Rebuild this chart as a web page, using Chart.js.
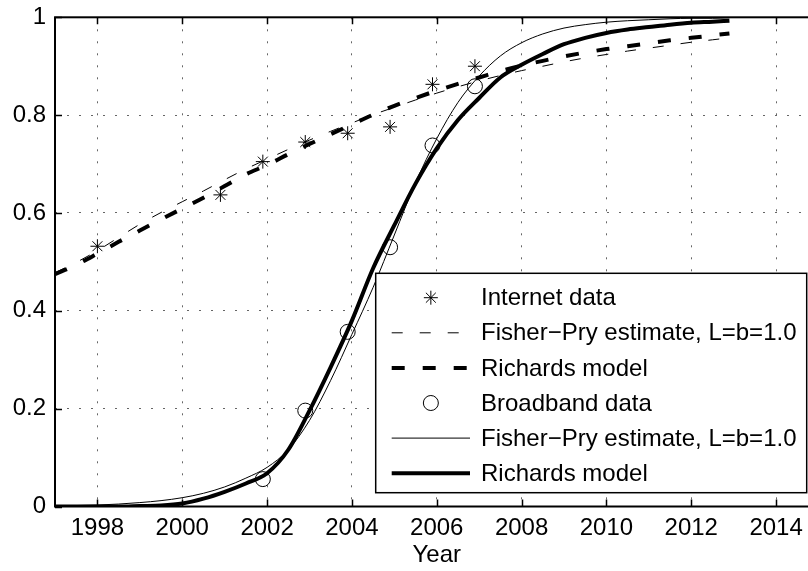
<!DOCTYPE html>
<html>
<head>
<meta charset="utf-8">
<script src="https://cdn.jsdelivr.net/npm/chart.js@4"></script>
<style>
  html, body { margin: 0; padding: 0; background: #fff; overflow: hidden; }
  canvas { display: block; }
</style>
</head>
<body>
<canvas id="c" width="840" height="571"></canvas>
<script>
// Axis ticks
const xTicks = [1998, 2000, 2002, 2004, 2006, 2008, 2010, 2012, 2014];
const yTicks = [0, 0.2, 0.4, 0.6, 0.8, 1];

// Observed adoption shares
const internetYears = [1998.0, 2000.9, 2001.9, 2002.9, 2003.9, 2004.9, 2005.9, 2006.9];
const internetShare = [0.532, 0.637, 0.705, 0.745, 0.763, 0.776, 0.863, 0.900];
const broadbandYears = [2001.9, 2002.9, 2003.9, 2004.9, 2005.9, 2006.9];
const broadbandShare = [0.056, 0.196, 0.357, 0.530, 0.738, 0.859];

// Fitted curves, sampled by year
const curveYears = [1997, 1997.5, 1998, 1998.5, 1999, 1999.5, 2000, 2000.5, 2001, 2001.5,
  2002, 2002.5, 2003, 2003.5, 2004, 2004.5, 2005, 2005.5, 2006, 2006.5,
  2007, 2007.5, 2008, 2008.5, 2009, 2009.5, 2010, 2010.5, 2011, 2011.5,
  2012, 2012.5, 2012.9];
const internetFisherPry = [0.478, 0.499, 0.523, 0.550, 0.577, 0.601, 0.623, 0.645, 0.668, 0.690,
  0.710, 0.730, 0.749, 0.767, 0.784, 0.801, 0.816, 0.831, 0.845, 0.858,
  0.870, 0.881, 0.891, 0.900, 0.909, 0.917, 0.924, 0.931, 0.937, 0.943,
  0.949, 0.954, 0.958];
const internetRichards = [0.475, 0.494, 0.517, 0.541, 0.564, 0.587, 0.609, 0.631, 0.655, 0.679,
  0.698, 0.720, 0.741, 0.761, 0.781, 0.801, 0.819, 0.835, 0.850, 0.864,
  0.877, 0.890, 0.901, 0.911, 0.920, 0.928, 0.935, 0.941, 0.947, 0.953,
  0.958, 0.963, 0.967];
const broadbandFisherPry = [0.001, 0.002, 0.003, 0.005, 0.008, 0.012, 0.018, 0.027, 0.040, 0.058,
  0.080, 0.116, 0.176, 0.258, 0.352, 0.448, 0.555, 0.662, 0.752, 0.826,
  0.880, 0.921, 0.948, 0.966, 0.978, 0.985, 0.990, 0.993, 0.995, 0.997,
  0.998, 0.998, 0.999];
const broadbandRichards = [0.000, 0.000, 0.000, 0.000, 0.001, 0.002, 0.006, 0.016, 0.030, 0.047,
  0.068, 0.116, 0.196, 0.285, 0.380, 0.487, 0.575, 0.660, 0.732, 0.790,
  0.835, 0.877, 0.903, 0.925, 0.945, 0.958, 0.968, 0.975, 0.980, 0.985,
  0.989, 0.991, 0.993];

const seriesLabels = ['Internet data', 'Fisher\u2212Pry estimate, L=b=1.0', 'Richards model',
  'Broadband data', 'Fisher\u2212Pry estimate, L=b=1.0', 'Richards model'];

const FONT = "'Liberation Sans', Arial, Helvetica, sans-serif";
const FONT_SIZE = 24;
const pts = (xs, ys) => xs.map((x, i) => ({ x: x, y: ys[i] }));

function markers(label, xs, ys, style, radius) {
  return {
    label: label, data: pts(xs, ys), showLine: false,
    pointStyle: style, pointRadius: radius, pointHoverRadius: radius,
    pointBorderColor: '#000', pointBackgroundColor: 'rgba(0,0,0,0)', pointBorderWidth: 1,
    borderColor: '#000', backgroundColor: 'rgba(0,0,0,0)'
  };
}
function curve(label, ys, width, dash) {
  return {
    label: label, data: pts(curveYears, ys), pointRadius: 0, pointHoverRadius: 0,
    borderColor: '#000', backgroundColor: 'rgba(0,0,0,0)', borderWidth: width,
    borderDash: dash, borderCapStyle: 'butt', cubicInterpolationMode: 'monotone', fill: false
  };
}

const datasets = [
  markers(seriesLabels[0], internetYears, internetShare, 'star', 7),
  curve(seriesLabels[1], internetFisherPry, 1, [11, 17]),
  curve(seriesLabels[2], internetRichards, 4, [13, 18]),
  markers(seriesLabels[3], broadbandYears, broadbandShare, 'circle', 7.5),
  curve(seriesLabels[4], broadbandFisherPry, 1, []),
  curve(seriesLabels[5], broadbandRichards, 4, [])
];
// later series are painted over earlier ones
datasets.forEach((d, i) => { d.order = 10 - i; });

// Axes frame with inward ticks on every side
const framePlugin = {
  id: 'frame',
  afterDatasetsDraw(chart) {
    const { ctx, chartArea: a, scales: { x, y } } = chart;
    ctx.save();
    ctx.strokeStyle = '#000';
    ctx.lineWidth = 1.5;
    ctx.beginPath();
    xTicks.forEach(v => {
      const px = Math.round(x.getPixelForValue(v)) + 0.5;
      ctx.moveTo(px, a.bottom); ctx.lineTo(px, a.bottom - 7);
      ctx.moveTo(px, a.top); ctx.lineTo(px, a.top + 7);
    });
    yTicks.forEach(v => {
      const py = Math.round(y.getPixelForValue(v)) + 0.5;
      ctx.moveTo(a.left, py); ctx.lineTo(a.left + 7, py);
      ctx.moveTo(a.right, py); ctx.lineTo(a.right - 7, py);
    });
    ctx.stroke();
    ctx.lineWidth = 2;
    ctx.strokeRect(a.left, a.top, a.right - a.left, a.bottom - a.top);
    ctx.restore();
  }
};

// Boxed legend inside the lower right of the axes
const legendPlugin = {
  id: 'boxLegend',
  afterDraw(chart) {
    const { ctx, chartArea: a } = chart;
    const w = 431, h = 219.4;
    const right = a.right - 11.8, bottom = a.bottom - 13.8;
    const left = right - w, top = bottom - h;
    ctx.save();
    ctx.fillStyle = '#fff';
    ctx.fillRect(left, top, w, h);
    ctx.strokeStyle = '#000';
    ctx.lineWidth = 1.5;
    ctx.strokeRect(left, top, w, h);
    ctx.font = FONT_SIZE + 'px ' + FONT;
    ctx.textBaseline = 'middle';
    ctx.textAlign = 'left';
    chart.data.datasets.forEach((ds, i) => {
      const cy = top + 24.4 + i * 35.1;
      const x0 = left + 16, x1 = left + 94.3, cx = (x0 + x1) / 2;
      ctx.strokeStyle = '#000';
      if (ds.showLine === false) {
        ctx.lineWidth = 1;
        ctx.setLineDash([]);
        ctx.beginPath();
        const r = ds.pointRadius;
        if (ds.pointStyle === 'star') {
          for (let k = 0; k < 4; k++) {
            const ang = k * Math.PI / 4;
            ctx.moveTo(cx - r * Math.cos(ang), cy - r * Math.sin(ang));
            ctx.lineTo(cx + r * Math.cos(ang), cy + r * Math.sin(ang));
          }
        } else {
          ctx.arc(cx, cy, r, 0, Math.PI * 2);
        }
        ctx.stroke();
      } else {
        ctx.lineWidth = ds.borderWidth;
        ctx.lineCap = 'butt';
        ctx.setLineDash(ds.borderDash || []);
        ctx.beginPath();
        ctx.moveTo(x0, cy); ctx.lineTo(x1, cy);
        ctx.stroke();
        ctx.setLineDash([]);
      }
      ctx.fillStyle = '#000';
      ctx.fillText(ds.label, left + 105.3, cy + 1);
    });
    ctx.restore();
  }
};

new Chart(document.getElementById('c'), {
  type: 'line',
  data: { datasets: datasets },
  options: {
    responsive: false,
    animation: false,
    devicePixelRatio: 1,
    layout: { padding: { top: 17.3, right: 21.5, left: 0, bottom: 0 } },
    plugins: { legend: { display: false }, tooltip: { enabled: false } },
    scales: {
      x: {
        type: 'linear', min: 1997, max: 2015,
        afterBuildTicks: s => { s.ticks = xTicks.map(v => ({ value: v })); },
        afterFit: s => { s.height = 64.5; s.paddingLeft = 0; s.paddingRight = 0; },
        grid: { color: '#666', lineWidth: 1, drawTicks: false },
        border: { display: false, dash: [2, 10] },
        ticks: { color: '#000', padding: 7.5, maxRotation: 0, autoSkip: false,
                 font: { family: FONT, size: FONT_SIZE }, callback: v => String(v) },
        title: { display: true, text: 'Year', color: '#000',
                 font: { family: FONT, size: FONT_SIZE }, padding: { top: 0, bottom: 1 } }
      },
      y: {
        type: 'linear', min: 0, max: 1,
        afterBuildTicks: s => { s.ticks = yTicks.map(v => ({ value: v })); },
        afterFit: s => { s.width = 55; s.paddingTop = 0; s.paddingBottom = 0; },
        grid: { color: '#666', lineWidth: 1, drawTicks: false },
        border: { display: false, dash: [2, 10] },
        ticks: { color: '#000', padding: 9, font: { family: FONT, size: FONT_SIZE },
                 callback: v => String(v) }
      }
    }
  },
  plugins: [framePlugin, legendPlugin]
});
</script>
</body>
</html>
